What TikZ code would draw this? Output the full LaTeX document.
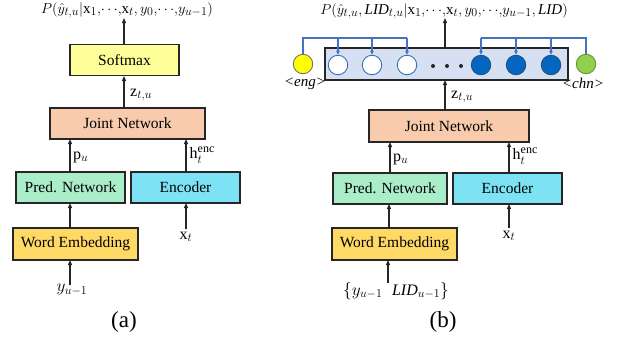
\documentclass[tikz,border=0pt]{standalone}
\usepackage{fontspec}
\setmainfont{Liberation Serif}
\usetikzlibrary{arrows.meta}
\DeclareMathSizes{15}{15}{11.5}{9}
\DeclareMathSizes{16}{16}{12}{9.5}
\definecolor{cSoft}{HTML}{FFFF99}
\definecolor{cJoint}{HTML}{F8CBAD}
\definecolor{cPred}{HTML}{A9EDC9}
\definecolor{cEnc}{HTML}{7DE3F4}
\definecolor{cWE}{HTML}{FFD966}
\definecolor{cOut}{HTML}{D6E0F2}
\definecolor{cBlue}{HTML}{0566C1}
\definecolor{cBlueEdge}{HTML}{2E75B6}
\definecolor{cLine}{HTML}{4472C4}
\definecolor{cGreen}{HTML}{92D050}
\definecolor{cYellow}{HTML}{FFFF00}
\newcommand{\cd}{\mathord{\cdots}}
\begin{document}
\begin{tikzpicture}[x=1pt,y=-1pt,
  box/.style={draw=black!85,line width=1.2pt,minimum height=31pt,inner sep=0pt,
    font=\fontsize{15.5}{18}\selectfont},
  arr/.style={-{Triangle[length=5pt,width=4pt]},line width=1.1pt,black!85},
  barr/.style={-{Triangle[length=4pt,width=3.5pt]},line width=1.1pt,cLine},
  bline/.style={line width=1.1pt,cLine},
  lbl/.style={font=\fontsize{16}{18}\selectfont,inner sep=0pt},
  ttl/.style={font=\fontsize{15}{17}\selectfont,inner sep=0pt},
  neuron/.style={circle,minimum size=19.5pt,inner sep=0pt,line width=0.9pt},
  tag/.style={font=\fontsize{15}{17}\selectfont\itshape,inner sep=0pt},
  sub/.style={font=\fontsize{23}{26}\selectfont,inner sep=0pt}]
\useasboundingbox (0,0) rectangle (618,343);

% ---------- (a) ----------
\node[box,fill=cSoft,minimum width=109pt] (softA) at (124.5,60) {Softmax};
\node[box,fill=cJoint,minimum width=155pt] (jointA) at (127.5,123.5) {Joint Network};
\node[box,fill=cPred,minimum width=109pt] (predA) at (70.5,187.5) {Pred. Network};
\node[box,fill=cEnc,minimum width=109pt] (encA) at (185.5,187.5) {Encoder};
\node[box,fill=cWE,minimum width=125pt,minimum height=32pt] (weA) at (75.5,244) {Word Embedding};

\node[ttl] (titleA) at (127,10) {$P\bigl(\hat{y}_{t,u}\big|\mathrm{x}_1{,}\cd{,}\mathrm{x}_t{,}\,y_0{,}\cd{,}y_{u-1}\bigr)$};
\node[lbl,anchor=west] (zA) at (130,95) {$\mathrm{z}_{t,u}$};
\node[lbl,anchor=west] (pA) at (73,157) {$\mathrm{p}_u$};
\node[lbl,anchor=west] (hA) at (189.5,155) {$\mathrm{h}_t^{\mathrm{enc}}$};
\node[lbl] (xA) at (186,237) {$\mathrm{x}_t$};
\node[lbl] (yA) at (72,290) {$y_{u-1}$};
\node[sub] (capA) at (124,322) {(a)};

\coordinate (tA) at (124,18);
\draw[arr] (124,44) -- (tA);
\draw[arr] (124,108) -- (124,76);
\draw[arr] (70,172) -- (70,139);
\draw[arr] (186,172) -- (186,139);
\draw[arr] (70,228) -- (70,203);
\draw[arr] (186,229) -- (186,203);
\draw[arr] (70,285) -- (70,260);

% ---------- (b) ----------
\node[box,fill=cOut,minimum width=243pt,minimum height=32pt] (outB) at (446.5,64) {};
\node[box,fill=cJoint,minimum width=160pt,minimum height=32pt] (jointB) at (449,126) {Joint Network};
\node[box,fill=cPred,minimum width=114pt] (predB) at (390,188.5) {Pred. Network};
\node[box,fill=cEnc,minimum width=109pt] (encB) at (507.5,188.5) {Encoder};
\node[box,fill=cWE,minimum width=125pt,minimum height=32pt] (weB) at (394.5,244) {Word Embedding};

\node[neuron,draw=black!55,fill=cYellow] (eng) at (303,64) {};
\node[neuron,draw=cBlueEdge,fill=white] (w1) at (338,65) {};
\node[neuron,draw=cBlueEdge,fill=white] (w2) at (372,65) {};
\node[neuron,draw=cBlueEdge,fill=white] (w3) at (407,65) {};
\node[circle,fill=black!85,inner sep=0pt,minimum size=4pt] (d1) at (433,66) {};
\node[circle,fill=black!85,inner sep=0pt,minimum size=4pt] (d2) at (447,66) {};
\node[circle,fill=black!85,inner sep=0pt,minimum size=4pt] (d3) at (461,66) {};
\node[neuron,draw=cBlueEdge!70!black,fill=cBlue] (b1) at (481,65) {};
\node[neuron,draw=cBlueEdge!70!black,fill=cBlue] (b2) at (516,65) {};
\node[neuron,draw=cBlueEdge!70!black,fill=cBlue] (b3) at (551,65) {};
\node[neuron,draw=cGreen!70!black,fill=cGreen] (chn) at (586,64) {};

\node[tag] (engL) at (305,83.5) {<eng>};
\node[tag] (chnL) at (583,83.5) {<chn>};

\coordinate (busE) at (303,38);
\coordinate (busC) at (586,38);
\draw[bline] (eng.north) -- (busE) -- (407,38);
\draw[barr] (338,38) -- (w1.north);
\draw[barr] (372,38) -- (w2.north);
\draw[barr] (407,38) -- (w3.north);
\draw[bline] (chn.north) -- (busC) -- (481,38);
\draw[barr] (481,38) -- (b1.north);
\draw[barr] (516,38) -- (b2.north);
\draw[barr] (551,38) -- (b3.north);

\node[ttl] (titleB) at (444,11) {$P\bigl(\hat{y}_{t,u}{,}\,\mathit{LID}_{t,u}\big|\mathrm{x}_1{,}\cd{,}\mathrm{x}_t{,}\,y_0{,}\cd{,}y_{u-1}{,}\,\mathit{LID}\bigr)$};
\node[lbl,anchor=west] (zB) at (451,97) {$\mathrm{z}_{t,u}$};
\node[lbl,anchor=west] (pB) at (393,159) {$\mathrm{p}_u$};
\node[lbl,anchor=west] (hB) at (512.5,156) {$\mathrm{h}_t^{\mathrm{enc}}$};
\node[lbl] (xB) at (509,236) {$\mathrm{x}_t$};
\node[lbl] (yB) at (396,291) {$\bigl\{y_{u-1}\;\;\mathit{LID}_{u-1}\bigr\}$};
\node[sub] (capB) at (443,322) {(b)};

\coordinate (tB) at (445,18);
\coordinate (inB) at (388,283);
\draw[arr] (445,48) -- (tB);
\draw[arr] (445,110) -- (445,80);
\draw[arr] (390,173) -- (390,142);
\draw[arr] (509,173) -- (509,142);
\draw[arr] (389,228) -- (389,204);
\draw[arr] (509,228) -- (509,204);
\draw[arr] (inB) -- (388,260);
\end{tikzpicture}
\end{document}
